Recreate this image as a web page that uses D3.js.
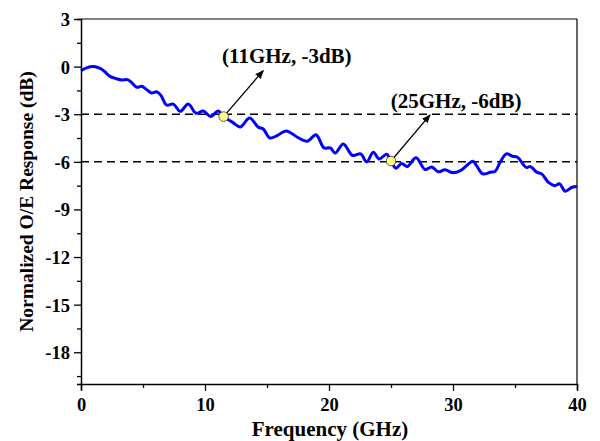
<!DOCTYPE html>
<html><head><meta charset="utf-8">
<script src="https://cdn.jsdelivr.net/npm/d3@7"></script>
<style>
body{margin:0;background:#fff;}
svg text{font-family:"Liberation Serif","Times New Roman",serif;font-weight:bold;fill:#000;}
</style></head>
<body><svg id="c" width="600" height="441"></svg>
<script>
const freq = [0,0.5,1.0,1.5,1.9,2.3,2.85,3.3,3.75,4.05,4.5,4.9,5.3,5.7,6.1,6.45,6.9,7.45,8.0,8.65,9.27,9.86,10.46,11.07,11.5,12.2,12.85,13.6,14.3,14.7,15.24,15.85,16.55,17.45,18.25,18.95,19.6,20.1,20.5,21.15,21.9,22.55,23.04,23.57,24.05,24.65,25.0,25.4,25.86,26.3,27.02,27.74,28.28,28.8,29.35,29.95,30.6,31.1,31.6,31.9,32.4,33.0,33.4,33.8,34.3,34.8,35.2,35.9,36.25,36.75,37.15,37.7,38.2,38.6,39.05,39.6,40];
const response = [-0.25,-0.06,0,-0.1,-0.31,-0.6,-0.76,-0.84,-0.82,-0.98,-1.3,-1.24,-1.45,-1.66,-1.58,-1.82,-2.42,-2.36,-2.82,-2.36,-2.94,-2.8,-3.14,-2.8,-3.15,-3.5,-3.8,-3.24,-3.82,-3.93,-4.5,-4.33,-4.05,-4.45,-4.7,-4.29,-5.12,-5.12,-5.45,-4.87,-5.6,-5.5,-6.0,-5.4,-5.82,-5.52,-5.95,-6.4,-6.1,-6.3,-5.75,-6.48,-6.32,-6.63,-6.5,-6.68,-6.55,-6.24,-5.97,-6.24,-6.76,-6.66,-6.6,-6.03,-5.5,-5.65,-5.71,-6.35,-6.3,-6.66,-6.76,-7.3,-7.5,-7.39,-7.85,-7.6,-7.56];
const xTicks = [0,10,20,30,40];
const yTicks = [3,0,-3,-6,-9,-12,-15,-18];
const refLines = [-3,-6];
const markerX = [11.5,25.0];
const markerY = [-3.15,-5.95];
const arrowEndX = [14.7,28.15];
const arrowEndY = [-0.25,-3.04];
const labels = ["(11GHz, -3dB)","(25GHz, -6dB)"];
const labelX = [16.6,30.25];
const labelY = [0.2,-2.6];

const svg = d3.select("#c");
const m = {l:81,r:577,t:19,b:384};
const x = d3.scaleLinear().domain([0,40]).range([m.l,m.r]);
const y = d3.scaleLinear().domain([-20,3]).range([m.b,m.t]);

svg.append("defs").append("marker").attr("id","ah").attr("viewBox","0 0 10 10")
  .attr("refX",9).attr("refY",5).attr("markerWidth",9).attr("markerHeight",9)
  .attr("orient","auto").attr("markerUnits","userSpaceOnUse")
  .append("path").attr("d","M0,1 L10,5 L0,9 Z").attr("fill","#000");

// frame top/right
svg.append("line").attr("x1",m.l).attr("x2",m.r).attr("y1",m.t).attr("y2",m.t).attr("stroke","#555").attr("stroke-width",1.5);
svg.append("line").attr("x1",m.r).attr("x2",m.r).attr("y1",m.t).attr("y2",m.b).attr("stroke","#000").attr("stroke-width",1.2);

// ref lines
refLines.forEach(v=>{
  svg.append("line").attr("x1",m.l).attr("x2",m.r).attr("y1",y(v)).attr("y2",y(v))
    .attr("stroke","#000").attr("stroke-width",1.5).attr("stroke-dasharray","8,5");
});

// axes
const xAx = svg.append("g").attr("transform",`translate(0,${m.b})`)
  .call(d3.axisBottom(x).tickValues(d3.range(0,40.1,5)).tickSize(6).tickFormat(d=>xTicks.includes(d)?d:""));
const yAx = svg.append("g").attr("transform",`translate(${m.l},0)`)
  .call(d3.axisLeft(y).tickValues(d3.range(-19.5,3.1,1.5)).tickSize(4).tickFormat(d=>yTicks.includes(d)?d:""));
[xAx,yAx].forEach(a=>{
  a.select(".domain").attr("stroke","#000").attr("stroke-width",1.5);
  a.selectAll(".tick line").attr("stroke","#000").attr("stroke-width",1.3);
  a.selectAll("text").style("font-size","18.5px").style("font-family","Liberation Serif").style("font-weight","bold").attr("fill","#000");
});
xAx.selectAll(".tick").filter(d=>!xTicks.includes(d)).select("line").attr("y2",4);
xAx.selectAll(".tick").filter(d=>xTicks.includes(d)).select("line").attr("y2",7);
xAx.selectAll("text").attr("y",14);
yAx.selectAll(".tick").filter(d=>yTicks.includes(d)).select("line").attr("x2",-7);
yAx.selectAll("text").attr("x",-11).attr("dy","0.35em");

// curve
const pts = freq.map((f,i)=>[f,response[i]]);
svg.append("path").datum(pts)
  .attr("d",d3.line().x(d=>x(d[0])).y(d=>y(d[1])).curve(d3.curveCatmullRom.alpha(0.5)))
  .attr("fill","none").attr("stroke","#0000ff").attr("stroke-width",3).attr("stroke-linejoin","round");

// annotations
markerX.forEach((mx,i)=>{
  svg.append("line").attr("x1",x(mx)).attr("y1",y(markerY[i]))
    .attr("x2",x(arrowEndX[i])).attr("y2",y(arrowEndY[i]))
    .attr("stroke","#000").attr("stroke-width",1.3).attr("marker-end","url(#ah)");
  svg.append("circle").attr("cx",x(mx)).attr("cy",y(markerY[i])).attr("r",4.8)
    .attr("fill","#ffff88").attr("stroke","#333").attr("stroke-width",0.8);
  svg.append("text").attr("x",x(labelX[i])).attr("y",y(labelY[i])).attr("text-anchor","middle")
    .style("font-size","21px").text(labels[i]);
});

// titles
svg.append("text").attr("x",(m.l+m.r)/2+1).attr("y",436).attr("text-anchor","middle")
  .style("font-size","21px").text("Frequency (GHz)");
svg.append("text").attr("transform",`translate(33,${(m.t+m.b)/2}) rotate(-90)`).attr("text-anchor","middle")
  .style("font-size","19.5px").text("Normalized O/E Response (dB)");
</script></body></html>
